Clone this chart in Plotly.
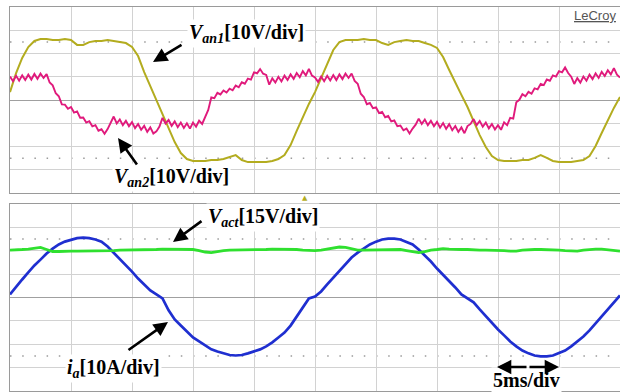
import plotly.graph_objects as go

# ---------------- data ----------------
# sample clocks: 0.5 ms and 0.25 ms steps over 10 divisions x 5 ms/div
T_SLOW = [i * 0.5 for i in range(101)]
T_FAST = [i * 0.25 for i in range(201)]

# V_an1 [V]  (10 V/div)
van1 = [3.4, 11.6, 18.1, 22.8, 25.4, 26.2, 26.2, 25.8, 25.8, 26.2,
        25.8, 23.7, 23.7, 24.9, 25.4, 25.4, 25.8, 25.4, 24.9, 24.5,
        22.8, 18.9, 12.0, 6.0, 0.4, -5.6, -12.0, -18.1, -22.8, -25.4,
        -26.2, -26.2, -26.2, -25.8, -25.8, -25.4, -24.5, -23.7, -25.8, -26.7,
        -26.7, -26.7, -26.7, -26.2, -25.4, -23.7, -19.4, -13.3, -7.3, -1.7,
        3.4, 9.5, 15.5, 21.5, 24.9, 25.8, 25.8, 25.8, 26.2, 25.8,
        25.8, 24.5, 23.7, 24.9, 25.4, 25.8, 25.4, 25.4, 24.5, 23.7,
        22.4, 18.5, 12.9, 7.3, 2.2, -3.0, -9.0, -15.1, -20.2, -24.1,
        -25.8, -26.2, -26.2, -26.2, -25.8, -25.8, -24.9, -23.7, -24.9, -26.2,
        -26.7, -26.7, -26.7, -26.2, -25.8, -24.1, -19.8, -14.2, -8.6, -3.4,
        1.3]

# V_an2 [V]  (10 V/div), 0.25 ms sampling
van2 = [10.1, 8.1, 10.4, 8.3, 10.6, 8.6, 10.9, 8.8, 11.2, 9.1,
        11.4, 9.5, 11.1, 7.5, 6.3, 2.9, 1.6, -1.9, -2.0, -3.8,
        -3.0, -5.4, -4.9, -7.6, -7.5, -9.7, -9.1, -11.3, -10.8, -13.2,
        -12.6, -14.5, -12.5, -9.7, -7.1, -10.1, -8.4, -10.8, -8.9, -11.3,
        -9.5, -12.1, -10.3, -12.8, -11.1, -13.7, -11.8, -14.4, -13.5, -11.4,
        -7.7, -10.1, -8.6, -11.1, -9.2, -11.7, -9.7, -12.0, -10.0, -12.3,
        -9.7, -11.5, -8.9, -10.3, -7.0, -4.3, 1.1, 0.8, 3.1, 2.4,
        4.1, 3.2, 4.9, 4.2, 6.2, 5.5, 7.6, 7.0, 9.2, 8.8,
        11.9, 11.5, 13.3, 11.3, 10.8, 6.6, 9.3, 7.5, 10.0, 8.0,
        10.5, 8.6, 11.0, 9.1, 11.6, 9.8, 12.4, 10.6, 13.4, 10.5,
        9.7, 7.8, 10.1, 8.1, 10.4, 8.4, 10.7, 8.6, 11.0, 9.0,
        11.4, 9.5, 11.4, 8.2, 7.0, 2.7, 1.3, -1.8, -1.3, -3.5,
        -3.2, -5.6, -5.1, -7.4, -6.9, -9.2, -8.8, -11.3, -11.0, -13.0,
        -12.3, -14.4, -12.3, -10.6, -8.0, -10.3, -8.4, -10.8, -8.9, -11.3,
        -9.4, -11.9, -9.9, -12.4, -10.4, -13.0, -11.2, -13.7, -11.8, -14.3,
        -11.2, -10.3, -8.2, -10.8, -9.0, -11.5, -9.7, -12.2, -10.3, -12.7,
        -10.8, -12.8, -9.6, -10.8, -7.7, -8.0, -1.0, 0.1, 2.5, 1.6,
        3.5, 2.7, 5.0, 4.6, 6.9, 6.4, 8.8, 8.3, 10.6, 10.1,
        12.4, 11.9, 14.0, 11.6, 10.0, 6.9, 9.4, 7.5, 10.1, 8.3,
        10.9, 9.0, 11.5, 9.5, 12.1, 10.3, 12.8, 11.0, 13.7, 10.9,
        9.7]

# V_act [V]  (15 V/div)
vact = [30.4, 30.4, 30.8, 31.1, 31.7, 32.1, 30.8, 29.5, 29.5, 29.8,
        29.8, 29.8, 29.8, 29.8, 29.8, 30.1, 30.1, 30.1, 30.4, 30.4,
        30.4, 30.4, 30.8, 30.8, 30.8, 31.1, 31.1, 31.1, 31.1, 31.1,
        30.8, 30.1, 29.2, 28.8, 29.5, 30.1, 30.4, 30.4, 30.4, 30.4,
        30.4, 30.8, 30.8, 31.1, 31.1, 31.1, 30.8, 30.8, 30.4, 30.1,
        30.1, 30.4, 31.1, 31.7, 32.4, 32.1, 31.1, 30.4, 30.4, 30.4,
        30.4, 30.4, 30.8, 30.8, 30.8, 30.1, 29.5, 28.8, 29.5, 30.4,
        30.8, 31.4, 31.1, 30.8, 30.8, 30.8, 30.4, 30.4, 30.4, 30.4,
        30.4, 30.1, 29.8, 29.8, 30.4, 30.8, 30.8, 30.8, 30.8, 30.8,
        30.4, 30.1, 29.8, 29.8, 30.4, 30.8, 31.1, 31.1, 30.8, 30.1,
        29.8]

# i_a [A]  (10 A/div)
ia = [1.3, 4.7, 7.7, 10.7, 13.7, 16.2, 18.8, 20.9, 22.7, 23.9,
      24.8, 25.4, 25.6, 25.4, 24.8, 23.9, 21.8, 19.2, 16.7, 13.7,
      11.1, 8.1, 5.6, 3.0, 1.3, -0.4, -5.5, -9.4, -12.0, -14.5,
      -17.1, -18.8, -20.5, -22.2, -23.1, -23.9, -24.6, -24.8, -24.6, -23.9,
      -23.1, -22.2, -20.9, -19.2, -17.1, -15.0, -12.0, -8.1, -3.8, -0.4,
      0.4, 2.6, 5.6, 8.5, 11.5, 14.1, 17.1, 19.2, 20.9, 22.7,
      23.9, 24.8, 25.2, 25.2, 24.8, 23.9, 22.7, 20.5, 18.0, 15.4,
      12.4, 9.8, 6.8, 4.3, 1.3, -0.4, -2.1, -5.1, -8.1, -11.1,
      -13.7, -16.2, -18.8, -20.9, -22.7, -23.9, -24.8, -25.2, -25.2, -24.8,
      -23.9, -22.7, -20.9, -18.8, -16.7, -14.1, -11.1, -7.7, -4.7, -1.7,
      0.9]

TIME_RANGE = [0, 50]     # ms, 5 ms/div
V_RANGE = [-40, 40]      # 10 V/div
I_RANGE = [-40, 40]      # 10 A/div
VACT_RANGE = [-60, 60]   # 15 V/div
DOT_LEVEL_V = 25
DOT_LEVEL_I = 25

# ---------------- styling ----------------
YELLOW = "#b3ac1f"
PINK = "#e01a7c"
GREEN = "#2fe02f"
BLUE = "#1f2fd0"
GRID = "#d2d2d2"
FRAME = "#9a9a9a"
SERIF = "Liberation Serif"

W, H = 620, 392
ML, MR, MT, MB = 10, 0, 7, 1
TOP_DOM = [0.5156, 1.0]
BOT_DOM = [0.0, 0.487]

fig = go.Figure()
fig.add_trace(go.Scatter(x=T_SLOW, y=van1, xaxis="x", yaxis="y", mode="lines",
                         line=dict(color=YELLOW, width=2), name="Van1"))
fig.add_trace(go.Scatter(x=T_FAST, y=van2, xaxis="x", yaxis="y", mode="lines",
                         line=dict(color=PINK, width=1.9), name="Van2"))
fig.add_trace(go.Scatter(x=T_SLOW, y=vact, xaxis="x2", yaxis="y3", mode="lines",
                         line=dict(color=GREEN, width=2.8), name="Vact"))
fig.add_trace(go.Scatter(x=T_SLOW, y=ia, xaxis="x2", yaxis="y2", mode="lines",
                         line=dict(color=BLUE, width=2.7), name="ia"))

ax_common = dict(showline=True, mirror=True, linecolor=FRAME, linewidth=1,
                 showgrid=True, gridcolor=GRID, gridwidth=1,
                 showticklabels=False, ticks="", zeroline=False,
                 fixedrange=True, automargin=False)

top_center = (TOP_DOM[0] + TOP_DOM[1]) / 2
bot_center = (BOT_DOM[0] + BOT_DOM[1]) / 2

tick_axis = dict(range=TIME_RANGE, anchor="free", showgrid=False, showline=False,
                 zeroline=False, showticklabels=False, ticks="outside",
                 ticklen=2, tickwidth=1, tickcolor="#8a8a8a", dtick=1, tick0=0,
                 fixedrange=True, automargin=False)

fig.update_layout(
    width=W, height=H, autosize=False,
    margin=dict(l=ML, r=MR, t=MT, b=MB, pad=0),
    paper_bgcolor="white", plot_bgcolor="white",
    showlegend=False, hovermode=False,
    xaxis=dict(ax_common, domain=[0, 1], range=TIME_RANGE, dtick=5, anchor="y"),
    yaxis=dict(ax_common, domain=TOP_DOM, range=V_RANGE, dtick=10, anchor="x",
               zeroline=True, zerolinecolor="#a0a0a0", zerolinewidth=1),
    xaxis2=dict(ax_common, domain=[0, 1], range=TIME_RANGE, dtick=5, anchor="y2"),
    yaxis2=dict(ax_common, domain=BOT_DOM, range=I_RANGE, dtick=10, anchor="x2",
                zeroline=True, zerolinecolor="#a0a0a0", zerolinewidth=1),
    yaxis3=dict(range=VACT_RANGE, overlaying="y2", anchor="x2", showgrid=False,
                showline=False, zeroline=False, showticklabels=False,
                fixedrange=True, automargin=False),
    xaxis3=dict(tick_axis, overlaying="x", position=top_center, side="bottom"),
    xaxis4=dict(tick_axis, overlaying="x", position=top_center, side="top"),
    xaxis5=dict(tick_axis, overlaying="x2", position=bot_center, side="bottom"),
    xaxis6=dict(tick_axis, overlaying="x2", position=bot_center, side="top"),
)

# dotted rows at +/-2.5 div
for lvl in (DOT_LEVEL_V, -DOT_LEVEL_V):
    fig.add_shape(type="line", xref="x", yref="y", x0=TIME_RANGE[0], x1=TIME_RANGE[1],
                  y0=lvl, y1=lvl, line=dict(color="#9a9a9a", width=1.5, dash="1.5px,10.7px"),
                  layer="below")
for lvl in (DOT_LEVEL_I, -DOT_LEVEL_I):
    fig.add_shape(type="line", xref="x2", yref="y2", x0=TIME_RANGE[0], x1=TIME_RANGE[1],
                  y0=lvl, y1=lvl, line=dict(color="#9a9a9a", width=1.5, dash="1.5px,10.7px"),
                  layer="below")

def px_x(px):
    return (px - ML) / (W - ML - MR)

def px_y(py):
    return (H - MB - py) / (H - MT - MB)

label_font = dict(family=SERIF, size=20, color="black")

def label(text, left_px, mid_py):
    fig.add_annotation(xref="paper", yref="paper", x=px_x(left_px), y=px_y(mid_py),
                       xanchor="left", yanchor="middle", text=text, showarrow=False,
                       font=label_font, bgcolor="white", borderpad=1)

def arrow(head, tail, heads=2):
    fig.add_annotation(xref="paper", yref="paper", x=px_x(head[0]), y=px_y(head[1]),
                       axref="pixel", ayref="pixel",
                       ax=tail[0] - head[0], ay=tail[1] - head[1],
                       text="", showarrow=True, arrowhead=heads, arrowsize=1.1,
                       arrowwidth=2.6, arrowcolor="black", standoff=0)

label("<b><i>V</i><sub><i>an1</i></sub>[10V/div]</b>", 187, 33)
label("<b><i>V</i><sub><i>an2</i></sub>[10V/div]</b>", 112, 177)
label("<b><i>V</i><sub><i>act</i></sub>[15V/div]</b>", 206, 217)
label("<b><i>i</i><sub><i>a</i></sub>[10A/div]</b>", 65, 368)
label("<b>5ms/div</b>", 491, 380)

arrow((153, 62), (183, 44))
arrow((118, 138), (138, 166))
arrow((173, 242), (203, 220))
arrow((168, 322), (127, 351))
arrow((497, 367), (528, 367))
arrow((559, 367), (528, 367))

# LeCroy logo
fig.add_annotation(xref="paper", yref="paper", x=px_x(618), y=px_y(15),
                   xanchor="right", yanchor="middle", text="<u>LeCroy</u>",
                   showarrow=False, font=dict(family="Liberation Sans", size=13, color="#555555"))

# trigger marker
fig.add_annotation(xref="paper", yref="paper", x=px_x(305), y=px_y(198),
                   xanchor="center", yanchor="middle", text="▲", showarrow=False,
                   font=dict(family="DejaVu Sans", size=7, color=YELLOW))

fig.write_html("out.html", config={"displayModeBar": False},
               post_script="document.body.style.margin='0';document.body.style.padding='0';")
